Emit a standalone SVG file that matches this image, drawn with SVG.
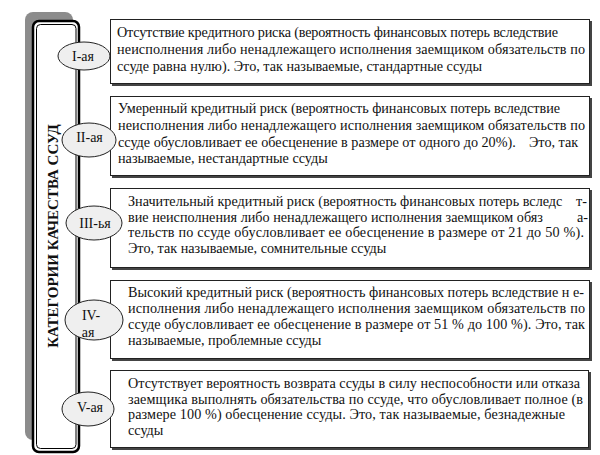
<svg xmlns="http://www.w3.org/2000/svg" width="600" height="455" viewBox="0 0 600 455">
<style>
.t{font-family:'Liberation Serif','Times New Roman',serif;font-size:14.2px;fill:#111}
.lbl{font-family:'Liberation Serif','Times New Roman',serif;font-size:14px;fill:#111;text-anchor:middle}
.title{font-family:'Liberation Serif','Times New Roman',serif;font-size:15px;font-weight:bold;fill:#111;text-anchor:middle}
.box{fill:#fff;stroke:#222;stroke-width:1}
.sh{fill:none;stroke:#444;stroke-width:2}
.el{fill:#efefef;stroke:#222;stroke-width:1}
</style>
<rect width="600" height="455" fill="#fff"/>
<g id="panel">
<rect x="25" y="12" width="48" height="428" rx="8" fill="#8c8c8c"/>
<rect x="33" y="21" width="46" height="431" rx="6" fill="#fff" stroke="#000" stroke-width="2.5"/>
<rect x="36.5" y="24.5" width="39.5" height="424" rx="4" fill="none" stroke="#000" stroke-width="1"/>
<text class="title" transform="translate(58,236) rotate(-90)">КАТЕГОРИИ КАЧЕСТВА ССУД</text>
</g>
<g id="box1">
<rect class="box" x="110.5" y="19.5" width="479" height="64"/>
<polyline class="sh" points="591,21 591,85 112,85"/>
<text class="t" x="117" y="37" textLength="441" lengthAdjust="spacing">Отсутствие кредитного риска (вероятность финансовых потерь вследствие</text>
<text class="t" x="117" y="54" textLength="468" lengthAdjust="spacing">неисполнения либо ненадлежащего исполнения заемщиком обязательств по</text>
<text class="t" x="117" y="71">ссуде равна нулю). Это, так называемые, стандартные ссуды</text>
</g>
<g id="box2">
<rect class="box" x="110.5" y="96.5" width="479" height="79"/>
<polyline class="sh" points="591,98 591,177 112,177"/>
<text class="t" x="118" y="113" textLength="442" lengthAdjust="spacing">Умеренный кредитный риск (вероятность финансовых потерь вследствие</text>
<text class="t" x="118" y="130" textLength="467" lengthAdjust="spacing">неисполнения либо ненадлежащего исполнения заемщиком обязательств по</text>
<text class="t" x="118" y="146.5">ссуде обусловливает ее обесценение в размере от одного до 20%).<tspan x="529">Это, так</tspan></text>
<text class="t" x="118" y="163">называемые, нестандартные ссуды</text>
</g>
<g id="box3">
<rect class="box" x="110.5" y="188.5" width="479" height="79"/>
<polyline class="sh" points="591,190 591,269 112,269"/>
<text class="t" x="128" y="206">Значительный кредитный риск (вероятность финансовых потерь вследс<tspan x="576">т-</tspan></text>
<text class="t" x="128" y="221.5">вие неисполнения либо ненадлежащего исполнения заемщиком обяз<tspan x="577">а-</tspan></text>
<text class="t" x="128" y="237" textLength="456" lengthAdjust="spacing">тельств по ссуде обусловливает ее обесценение в размере от 21 до 50 %).</text>
<text class="t" x="128" y="252.5">Это, так называемые, сомнительные ссуды</text>
</g>
<g id="box4">
<rect class="box" x="110.5" y="280.5" width="479" height="78"/>
<polyline class="sh" points="591,282 591,360 112,360"/>
<text class="t" x="128" y="297" textLength="456" lengthAdjust="spacing">Высокий кредитный риск (вероятность финансовых потерь вследствие н е-</text>
<text class="t" x="128" y="313" textLength="457" lengthAdjust="spacing">исполнения либо ненадлежащего исполнения заемщиком обязательств по</text>
<text class="t" x="128" y="329" textLength="457" lengthAdjust="spacing">ссуде обусловливает ее обесценение в размере от 51 % до 100 %). Это, так</text>
<text class="t" x="128" y="345">называемые, проблемные ссуды</text>
</g>
<g id="box5">
<rect class="box" x="110.5" y="370.5" width="478" height="77"/>
<polyline class="sh" points="590,372 590,449 112,449"/>
<text class="t" x="128" y="388" textLength="452" lengthAdjust="spacing">Отсутствует вероятность возврата ссуды в силу неспособности или отказа</text>
<text class="t" x="128" y="403.5" textLength="455" lengthAdjust="spacing">заемщика выполнять обязательства по ссуде, что обусловливает полное (в</text>
<text class="t" x="128" y="419" textLength="437" lengthAdjust="spacing">размере 100 %) обесценение ссуды.  Это, так называемые, безнадежные</text>
<text class="t" x="128" y="434.5">ссуды</text>
</g>
<g id="cat1"><ellipse class="el" cx="84" cy="56" rx="26" ry="14"/><text class="lbl" x="83" y="60.5">I-ая</text></g>
<g id="cat2"><ellipse class="el" cx="89" cy="140" rx="27" ry="17"/><text class="lbl" x="89.5" y="142">II-ая</text></g>
<g id="cat3"><ellipse class="el" cx="94" cy="223" rx="28" ry="17"/><text class="lbl" x="95" y="228">III-ья</text></g>
<g id="cat4"><ellipse class="el" cx="94" cy="320" rx="29" ry="20"/><text class="lbl" x="91" y="320">IV-</text><text class="lbl" x="88" y="337">ая</text></g>
<g id="cat5"><ellipse class="el" cx="88" cy="409" rx="26" ry="17"/><text class="lbl" x="90" y="412">V-ая</text></g>
</svg>
